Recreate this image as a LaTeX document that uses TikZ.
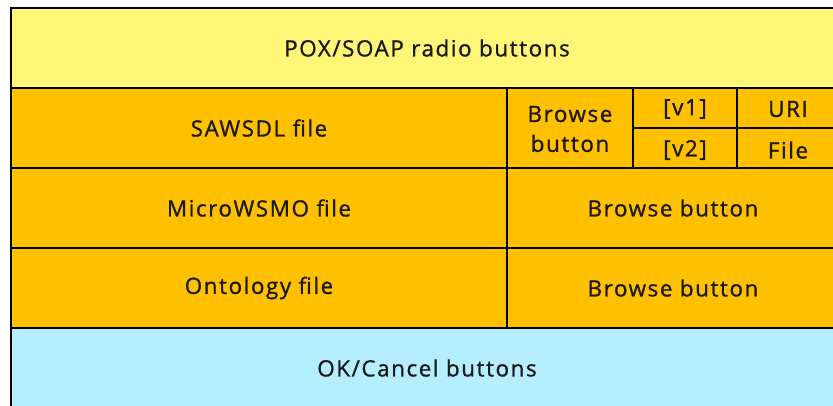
\documentclass[tikz,border=0pt]{standalone}
\usepackage{fontspec}
\setmainfont{Open Sans}[FakeBold=1.0,LetterSpace=7]
\definecolor{ylw}{HTML}{FFF678}
\definecolor{org}{HTML}{FFC000}
\definecolor{blu}{HTML}{B5EEFF}
\begin{document}
\begin{tikzpicture}[x=1bp,y=-1bp,
  cell/.style={draw=black,line width=2.2bp},
  lbl/.style={font=\fontsize{22.5}{30}\selectfont,text=black!90,align=center,inner sep=0pt}]
\useasboundingbox (0,0) rectangle (833,405);
\fill[ylw] (11,8) rectangle (840,88);
\fill[org] (11,88) rectangle (840,328);
\fill[blu] (11,328) rectangle (840,412);
\draw[cell] (840,8) -- (11,8) -- (11,412);
\draw[cell] (11,88) -- (840,88);
\draw[cell] (11,168) -- (840,168);
\draw[cell] (11,248) -- (840,248);
\draw[cell] (11,328) -- (840,328);
\draw[cell] (507,88) -- (507,328);
\draw[cell] (633,88) -- (633,168);
\draw[cell] (737,88) -- (737,168);
\draw[cell] (633,128) -- (840,128);
\node[lbl] (pox) at (427,48) {POX/SOAP radio buttons};
\node[lbl] (saw) at (259,128) {SAWSDL file};
\node[lbl] (br1) at (570,129) {Browse\\button};
\node[lbl] (v1) at (685,109) {[v1]};
\node[lbl] (v2) at (685,150) {[v2]};
\node[lbl] (uri) at (788,109) {URI};
\node[lbl] (file) at (788,150) {File};
\node[lbl] (mic) at (259,208) {MicroWSMO file};
\node[lbl] (br2) at (673,208) {Browse button};
\node[lbl] (ont) at (259,288) {Ontology file};
\node[lbl] (br3) at (673,288) {Browse button};
\node[lbl] (ok) at (427,368) {OK/Cancel buttons};
\end{tikzpicture}
\end{document}
